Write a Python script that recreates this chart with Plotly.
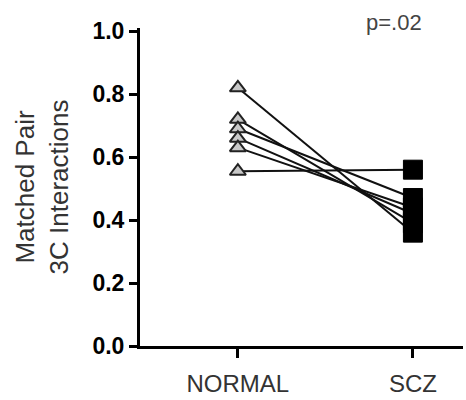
import plotly.graph_objects as go

# Matched pairs: NORMAL value -> SCZ value for the same pair
groups = ["NORMAL", "SCZ"]
normal_vals = [0.82, 0.72, 0.69, 0.66, 0.63, 0.555]
scz_vals = [0.36, 0.39, 0.47, 0.42, 0.44, 0.56]
y_ticks = [0.0, 0.2, 0.4, 0.6, 0.8, 1.0]
p_label = "p=.02"

FONT = "Liberation Sans, Arial"

fig = go.Figure()

# connecting lines for each pair
for n, s in zip(normal_vals, scz_vals):
    fig.add_trace(go.Scatter(
        x=[0, 1], y=[n, s], mode="lines",
        line=dict(color="#111111", width=2),
        showlegend=False, hoverinfo="skip",
    ))

fig.add_trace(go.Scatter(
    x=[0] * len(normal_vals), y=normal_vals, mode="markers",
    marker=dict(symbol="triangle-up", size=14, color="#c8c8c8",
                line=dict(color="#222222", width=2)),
    showlegend=False,
))
fig.add_trace(go.Scatter(
    x=[1] * len(scz_vals), y=scz_vals, mode="markers",
    marker=dict(symbol="square", size=19, color="#000000",
                line=dict(color="#000000", width=1)),
    showlegend=False,
))

# p-value label near the top right of the plot area
fig.add_annotation(
    x=(394 - 140) / (466 - 140 - 3), y=(400 - 52 - 22) / (400 - 28 - 52),
    xref="paper", yref="paper", text=p_label, showarrow=False,
    font=dict(family=FONT, size=22, color="#444444"),
    xanchor="center", yanchor="middle",
)

fig.update_layout(
    width=466, height=400,
    margin=dict(l=140, r=3, t=28, b=52),
    paper_bgcolor="white", plot_bgcolor="white",
    font=dict(family=FONT, color="#000000"),
    xaxis=dict(
        range=[-0.559, 1.286], tickvals=[0, 1], ticktext=groups,
        showgrid=False, zeroline=False,
        showline=True, linecolor="#000000", linewidth=3,
        ticks="outside", ticklen=9, tickwidth=3, tickcolor="#000000",
        tickfont=dict(size=24, color="#333333"), ticklabelstandoff=5,
    ),
    yaxis=dict(
        range=[0, 1.01], tickvals=y_ticks,
        ticktext=[f"<b>{v:.1f}</b>" for v in y_ticks],
        showgrid=False, zeroline=False,
        showline=True, linecolor="#000000", linewidth=3,
        ticks="outside", ticklen=8, tickwidth=3, tickcolor="#000000",
        tickfont=dict(size=23, color="#000000"),
        title=dict(text="Matched Pair<br>3C Interactions",
                   font=dict(size=26, color="#333333"), standoff=17),
    ),
)

fig.write_html("out.html")
